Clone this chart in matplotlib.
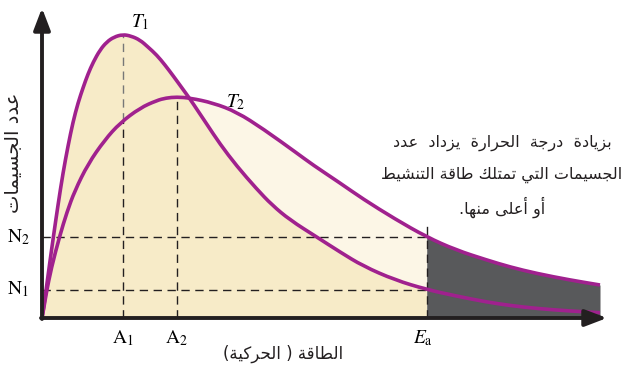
import numpy as np
import matplotlib
matplotlib.use("Agg")
import matplotlib.pyplot as plt
from matplotlib.path import Path
from matplotlib.patches import PathPatch

# ---------------- data (arbitrary energy / count units) ----------------
t1_x = [0, 2, 4.5, 8, 11.5, 16, 21, 26, 31, 36, 41.3, 46, 51.3, 58, 64.7, 72, 80.7, 89, 98, 106,
        114.7, 123, 131.3, 140, 148, 156, 164.7, 178, 194.7, 214.7, 230, 248, 274.7, 298, 321, 353,
        384.7, 414, 444.7, 468, 494.7, 528, 558]
t1_y = [0, 13, 31, 57, 82, 113, 145, 172, 196, 215, 231, 244, 256, 268, 276, 281, 283.5, 282, 278, 271,
        263, 253, 242, 230, 219, 207, 194, 174, 152, 129, 113, 98, 81, 66, 52, 38,
        28.5, 22, 16, 12.5, 9.5, 7, 5.3]
t2_x = [0, 2, 4.3, 9.3, 17.7, 25, 32.7, 46, 62.7, 78, 98, 114.7, 124, 134.7, 148, 171.3, 194.7, 221.3,
        254.7, 271, 298, 321, 353, 384.7, 414, 444.7, 468, 494.7, 528, 558]
t2_y = [0, 11, 25, 50, 82, 106, 127, 154, 178, 195, 210, 217.5, 220, 221, 220, 215, 206, 189,
        165, 153, 135, 119, 99, 81, 68, 58, 51, 44.5, 38, 33]
A1 = 80.7
A2 = 134.7
EA = 384.7
N1 = 28.5
N2 = 81

ylabel_text = "عدد الجسيمات"
xlabel_text = "الطاقة ( الحركية)"
note_lines = ["بزيادة  درجة  الحرارة  يزداد  عدد",
              "الجسيمات التي تمتلك طاقة التنشيط",
              "أو أعلى منها."]

# ---------------- minimal Arabic shaping (presentation forms + RTL) ----------------
FORMS = {
    '\u0627': ('\uFE8D', '\uFE8E', None, None),
    '\u0623': ('\uFE83', '\uFE84', None, None),
    '\u0625': ('\uFE87', '\uFE88', None, None),
    '\u0622': ('\uFE81', '\uFE82', None, None),
    '\u0628': ('\uFE8F', '\uFE90', '\uFE91', '\uFE92'),
    '\u0629': ('\uFE93', '\uFE94', None, None),
    '\u062A': ('\uFE95', '\uFE96', '\uFE97', '\uFE98'),
    '\u062C': ('\uFE9D', '\uFE9E', '\uFE9F', '\uFEA0'),
    '\u062D': ('\uFEA1', '\uFEA2', '\uFEA3', '\uFEA4'),
    '\u062F': ('\uFEA9', '\uFEAA', None, None),
    '\u0631': ('\uFEAD', '\uFEAE', None, None),
    '\u0632': ('\uFEAF', '\uFEB0', None, None),
    '\u0633': ('\uFEB1', '\uFEB2', '\uFEB3', '\uFEB4'),
    '\u0634': ('\uFEB5', '\uFEB6', '\uFEB7', '\uFEB8'),
    '\u0637': ('\uFEC1', '\uFEC2', '\uFEC3', '\uFEC4'),
    '\u0639': ('\uFEC9', '\uFECA', '\uFECB', '\uFECC'),
    '\u0642': ('\uFED5', '\uFED6', '\uFED7', '\uFED8'),
    '\u0643': ('\uFED9', '\uFEDA', '\uFEDB', '\uFEDC'),
    '\u0644': ('\uFEDD', '\uFEDE', '\uFEDF', '\uFEE0'),
    '\u0645': ('\uFEE1', '\uFEE2', '\uFEE3', '\uFEE4'),
    '\u0646': ('\uFEE5', '\uFEE6', '\uFEE7', '\uFEE8'),
    '\u0647': ('\uFEE9', '\uFEEA', '\uFEEB', '\uFEEC'),
    '\u0648': ('\uFEED', '\uFEEE', None, None),
    '\u0649': ('\uFEEF', '\uFEF0', None, None),
    '\u064A': ('\uFEF1', '\uFEF2', '\uFEF3', '\uFEF4'),
}
LAM_ALEF = {'\u0627': ('\uFEFB', '\uFEFC'), '\u0623': ('\uFEF7', '\uFEF8'),
            '\u0625': ('\uFEF9', '\uFEFA'), '\u0622': ('\uFEF5', '\uFEF6')}


def joins_forward(c):
    return c in FORMS and FORMS[c][2] is not None


def shape(text):
    out = []
    n = len(text)
    i = 0
    while i < n:
        c = text[i]
        prev = text[i - 1] if i > 0 else ''
        nxt = text[i + 1] if i + 1 < n else ''
        if c not in FORMS:
            out.append(c)
            i += 1
            continue
        pj = joins_forward(prev)
        if c == '\u0644' and nxt in LAM_ALEF:
            out.append(LAM_ALEF[nxt][1 if pj else 0])
            i += 2
            continue
        nj = joins_forward(c) and nxt in FORMS
        iso, fin, ini, med = FORMS[c]
        if pj and nj:
            out.append(med)
        elif pj:
            out.append(fin)
        elif nj:
            out.append(ini)
        else:
            out.append(iso)
        i += 1
    s = ''.join(out)[::-1]
    s = s.translate(str.maketrans({'(': ')', ')': '('}))
    return s


def smooth_path(x, y):
    """Quadratic B-spline path using the read points as control points."""
    P = np.column_stack([x, y]).astype(float)
    verts = [P[0], (P[0] + P[1]) / 2]
    codes = [Path.MOVETO, Path.LINETO]
    for i in range(1, len(P) - 1):
        verts += [P[i], (P[i] + P[i + 1]) / 2]
        codes += [Path.CURVE3, Path.CURVE3]
    verts.append(P[-1])
    codes.append(Path.LINETO)
    return Path(np.array(verts), codes)


# ---------------- figure ----------------
plt.rcParams['mathtext.fontset'] = 'stix'
W, H = 632, 376
fig = plt.figure(figsize=(W / 100, H / 100), dpi=100)
ax = fig.add_axes([42 / W, 58 / H, 565 / W, 310 / H])
ax.set_xlim(0, 565)
ax.set_ylim(0, 310)
ax.axis('off')

purple = '#a0218e'
tan = '#f7ebc8'
cream = '#fcf6e6'
dark = '#58595b'
black = '#231f20'

t1_x = np.array(t1_x); t1_y = np.array(t1_y)
t2_x = np.array(t2_x); t2_y = np.array(t2_y)

m2 = t2_x <= EA
ax.fill_between(t2_x[m2], 0, t2_y[m2], color=cream, lw=0, zorder=1)
m1 = t1_x <= EA
ax.fill_between(t1_x[m1], 0, t1_y[m1], color=tan, lw=0, zorder=2)
m3 = t2_x >= EA
ax.fill_between(t2_x[m3], 0, t2_y[m3], color=dark, lw=0, zorder=2)

# dashed guide lines
dkw = dict(lw=1.0, dashes=(6, 4), zorder=3)
t2_at_A1 = np.interp(A1, t2_x, t2_y)
ax.plot([A1, A1], [0, t2_at_A1], color=black, **dkw)
ax.plot([A1, A1], [t2_at_A1, max(t1_y)], color='#777777', **dkw)
ax.plot([A2, A2], [0, max(t2_y)], color=black, **dkw)
ax.plot([0, EA], [N2, N2], color=black, **dkw)
ax.plot([0, EA], [N1, N1], color=black, **dkw)
ax.plot([EA, EA], [0, N2 + 14], color=black, **dkw)

# curves
for xs, ys in ((t1_x, t1_y), (t2_x, t2_y)):
    ax.add_patch(PathPatch(smooth_path(xs, ys), fill=False, edgecolor=purple, lw=2.6,
                           capstyle='butt', joinstyle='round', zorder=5))

# axes with arrows
akw = dict(arrowstyle='-|>,head_length=1.1,head_width=0.42', color=black, lw=2.8,
           shrinkA=0, shrinkB=0, mutation_scale=12)
ax.annotate('', xy=(565, 0), xytext=(-1, 0), arrowprops=akw, annotation_clip=False, zorder=6)
ax.annotate('', xy=(0, 310), xytext=(0, -1), arrowprops=akw, annotation_clip=False, zorder=6)

# labels
fs = 14
ax.text(98, 296, r'$T_1$', fontsize=fs, ha='center', va='center')
ax.text(194, 216, r'$T_2$', fontsize=fs, ha='center', va='center')
ax.text(-24, N2, r'$\mathrm{N}_2$', fontsize=fs, ha='center', va='center')
ax.text(-24, N1, r'$\mathrm{N}_1$', fontsize=fs, ha='center', va='center')
ax.text(A1, -20, r'$\mathrm{A}_1$', fontsize=fs, ha='center', va='center')
ax.text(A2, -20, r'$\mathrm{A}_2$', fontsize=fs, ha='center', va='center')
ax.text(EA - 4, -20, r'$E_\mathrm{a}$', fontsize=fs, ha='center', va='center')

afont = 'DejaVu Sans'
ax.text(241, -36, shape(xlabel_text), fontsize=12, family=afont, ha='center', va='center',
        color=black)
ax.text(-28, 165, shape(ylabel_text), fontsize=14, family=afont, ha='center', va='center',
        rotation=90, color=black)
for k, line in enumerate(note_lines):
    ax.text(460, 175 - 32 * k, shape(line), fontsize=11.5, family=afont, ha='center',
            va='center', color=black)

fig.savefig('out.png', dpi=100)
